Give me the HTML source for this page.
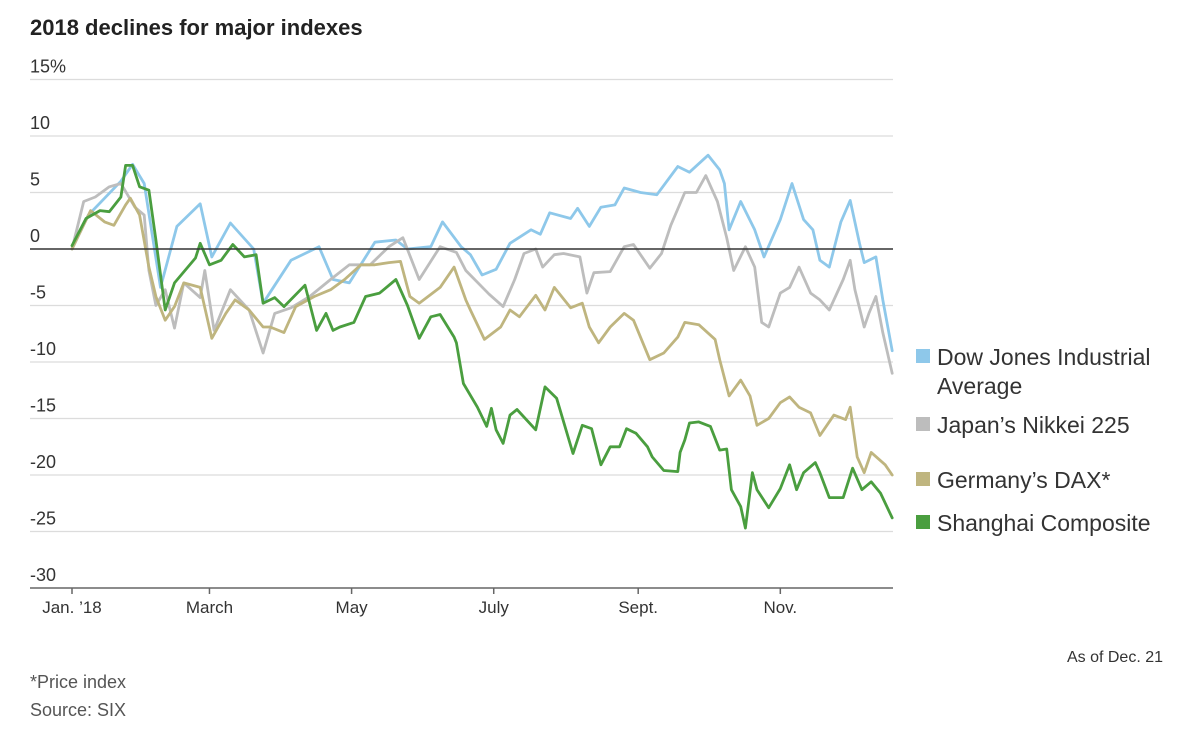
<!DOCTYPE html>
<html><head><meta charset="utf-8">
<style>
html,body{margin:0;padding:0;background:#fff;}
body{width:1200px;height:727px;overflow:hidden;font-family:"Liberation Sans",sans-serif;}
svg text{font-family:"Liberation Sans",sans-serif;}
</style></head>
<body>
<svg id="chart" width="1200" height="727" xmlns="http://www.w3.org/2000/svg">
<text x="30" y="35" font-size="22" font-weight="bold" fill="#222">2018 declines for major indexes</text>
<g id="grid"></g><g id="series"></g><g id="xaxis"></g>
<g>
<rect x="916" y="349" width="14" height="14" fill="#8ec8ea"/>
<text x="937" y="365" font-size="23" fill="#333">Dow Jones Industrial</text>
<text x="937" y="394" font-size="23" fill="#333">Average</text>
<rect x="916" y="417" width="14" height="14" fill="#bdbdbd"/>
<text x="937" y="433" font-size="23" fill="#333">Japan’s Nikkei 225</text>
<rect x="916" y="472" width="14" height="14" fill="#bfb57f"/>
<text x="937" y="488" font-size="23" fill="#333">Germany’s DAX*</text>
<rect x="916" y="515" width="14" height="14" fill="#4a9e3f"/>
<text x="937" y="531" font-size="23" fill="#333">Shanghai Composite</text>
</g>
<text x="1163" y="662" font-size="16" fill="#333" text-anchor="end">As of Dec. 21</text>
<text x="30" y="688" font-size="18" fill="#555">*Price index</text>
<text x="30" y="716" font-size="18" fill="#555">Source: SIX</text>
</svg>
<script>
const yTicks = [15,10,5,0,-5,-10,-15,-20,-25,-30];
const yTickLabels = ["15%","10","5","0","-5","-10","-15","-20","-25","-30"];
const monthDays = [1,60,121,182,244,305];
const monthLabels = ["Jan. ’18","March","May","July","Sept.","Nov."];

const dowDays = [1,8,15,22,27,32,39,46,56,61,69,79,83,95,107,113,120,131,140,145,155,160,168,172,177,183,189,198,202,206,215,218,223,228,234,238,245,252,261,266,274,279,281,283,288,294,298,305,310,315,319,322,326,331,335,339,341,346,349,353];
const dowVals = [0,3,4.5,6,7.5,5.8,-3.4,2,4,-0.7,2.3,0,-4.8,-1,0.2,-2.7,-3,0.6,0.8,0,0.2,2.4,0.2,-0.5,-2.3,-1.8,0.5,1.7,1.3,3.2,2.7,3.6,2,3.7,3.9,5.4,5,4.8,7.3,6.8,8.3,7,5.8,1.7,4.2,1.7,-0.7,2.6,5.8,2.6,1.7,-1,-1.6,2.4,4.3,0.5,-1.2,-0.7,-4.5,-9];

const nikDays = [1,6,11,17,22,28,32,34,37,41,45,49,56,58,62,69,77,83,88,95,103,112,120,129,137,143,150,159,166,170,180,186,191,195,200,203,208,212,219,222,225,232,238,242,249,254,258,264,269,273,278,282,285,290,294,297,300,305,309,313,318,322,326,332,335,337,341,343,346,349,353];
const nikVals = [0,4.2,4.6,5.5,5.8,3.7,3,-1.9,-5,-3.6,-7,-3,-4.3,-1.9,-7.2,-3.6,-5.4,-9.2,-5.7,-5.2,-4.2,-2.7,-1.4,-1.4,0.2,1,-2.7,0.2,-0.3,-1.9,-4,-5.1,-2.7,-0.4,0,-1.6,-0.5,-0.4,-0.7,-3.9,-2.1,-2,0.2,0.4,-1.7,-0.4,2.1,5,5,6.5,4.2,1,-1.9,0.2,-1.6,-6.5,-6.9,-3.9,-3.4,-1.6,-3.9,-4.5,-5.4,-2.7,-1,-3.6,-6.9,-5.7,-4.2,-7.4,-11];

const daxDays = [1,9,15,19,24,26,30,34,37,41,45,49,56,61,67,71,77,83,86,92,97,105,112,118,125,131,137,142,146,150,159,165,170,172,178,185,189,193,200,204,208,215,220,223,227,232,238,242,249,255,261,264,270,277,279,283,288,292,295,300,305,309,313,318,322,328,333,335,338,341,344,350,353];
const daxVals = [0,3.4,2.4,2.1,3.9,4.5,3,-1.6,-4.2,-6.3,-5.1,-3,-3.4,-7.9,-5.7,-4.5,-5.4,-6.9,-6.9,-7.4,-5.1,-4.2,-3.6,-2.7,-1.4,-1.4,-1.2,-1.1,-4.2,-4.8,-3.4,-1.6,-4.5,-5.4,-8,-6.9,-5.4,-6,-4.1,-5.4,-3.4,-5.2,-4.8,-6.9,-8.3,-6.9,-5.7,-6.3,-9.8,-9.2,-7.8,-6.5,-6.7,-8,-9.8,-13,-11.6,-13,-15.6,-15,-13.6,-13.1,-14,-14.5,-16.5,-14.7,-15.1,-14,-18.4,-19.8,-18,-19.1,-20];

const shDays = [1,7,13,17,22,24,27,30,34,37,41,45,54,56,60,65,70,75,80,83,88,92,101,106,110,113,116,122,127,133,140,145,150,155,159,165,166,169,175,179,181,183,186,189,192,200,204,209,216,220,224,228,232,236,239,243,248,250,255,261,262,264,266,270,275,279,282,284,288,290,293,295,300,305,309,312,315,320,322,326,332,336,340,344,348,353];
const shVals = [0.3,2.7,3.4,3.3,4.6,7.4,7.4,5.5,5.2,0.8,-5.4,-3,-0.8,0.5,-1.4,-1,0.4,-0.7,-0.5,-4.8,-4.3,-5.1,-3.2,-7.2,-5.7,-7.2,-6.9,-6.5,-4.2,-3.9,-2.7,-5,-7.9,-6,-5.8,-7.8,-8.3,-11.9,-14,-15.7,-14.1,-16,-17.2,-14.7,-14.2,-16,-12.2,-13.2,-18.1,-15.6,-15.9,-19.1,-17.5,-17.5,-15.9,-16.3,-17.5,-18.4,-19.6,-19.7,-18,-16.9,-15.4,-15.3,-15.7,-17.8,-17.7,-21.3,-22.8,-24.7,-19.8,-21.3,-22.9,-21.2,-19.1,-21.3,-19.8,-18.9,-19.8,-22,-22,-19.4,-21.3,-20.6,-21.6,-23.8];

const NS = "http://www.w3.org/2000/svg";
function xs(d){ return 72 + (d-1)*2.33; }
function ys(v){ return 249 - v*11.3; }
function mk(tag, attrs, parent){ const e=document.createElementNS(NS,tag); for(const k in attrs) e.setAttribute(k, attrs[k]); parent.appendChild(e); return e; }

const grid = document.getElementById('grid');
yTicks.forEach((t,i)=>{
  const y = ys(t);
  if (t !== 0 && t !== -30) {
    const gl = mk('line',{x1:30,x2:893,y1:y,y2:y,stroke:'#dcdcdc','stroke-width':1.2},grid);
    
    
  }
  const lab = mk('text',{x:30,y:y-7,'font-size':18,fill:'#333'},grid);
  lab.textContent = yTickLabels[i];
  
  
});

const series = document.getElementById('series');
function drawLine(days, vals, color, name){
  let d = '';
  days.forEach((dd,i)=>{ d += (i?'L':'M') + xs(dd).toFixed(1) + ',' + ys(vals[i]).toFixed(1); });
  const p = mk('path',{d:d,fill:'none',stroke:color,'stroke-width':2.8,'stroke-linejoin':'round','stroke-linecap':'round'},series);
  
  
}
drawLine(dowDays, dowVals, '#8ec8ea', 'dow-line');
drawLine(nikDays, nikVals, '#bdbdbd', 'nikkei-line');
drawLine(daxDays, daxVals, '#bfb57f', 'dax-line');
drawLine(shDays, shVals, '#4a9e3f', 'shanghai-line');

const zl = mk('line',{x1:30,x2:893,y1:ys(0),y2:ys(0),stroke:'#333','stroke-width':1.6},grid.parentNode);



const xa = document.getElementById('xaxis');
const base = ys(-30);
const axl = mk('line',{x1:30,x2:893,y1:base,y2:base,stroke:'#666','stroke-width':1.5},xa);


monthDays.forEach((d,i)=>{
  const x = xs(d);
  const tk = mk('line',{x1:x,x2:x,y1:base,y2:base+6,stroke:'#666','stroke-width':1.5},xa);
  
  
  const t = mk('text',{x:x,y:base+25,'font-size':17,fill:'#333','text-anchor':'middle'},xa);
  t.textContent = monthLabels[i];
  
  
});
</script>
</body></html>
